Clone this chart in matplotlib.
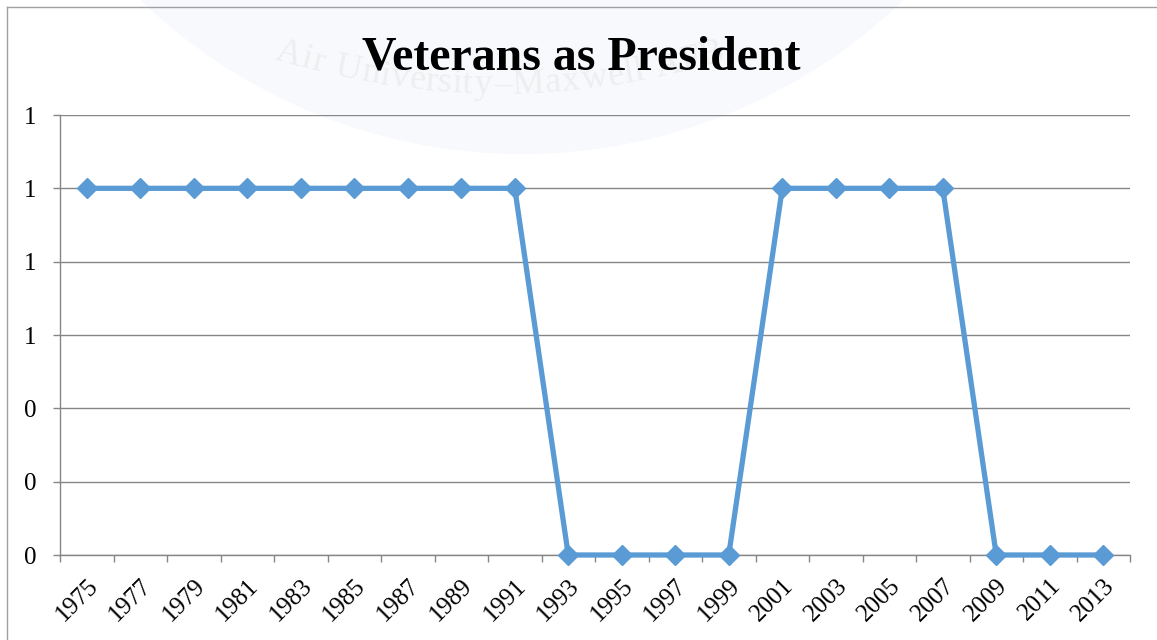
import numpy as np
import matplotlib
matplotlib.use('Agg')
import matplotlib.pyplot as plt
from matplotlib.patches import Circle
from matplotlib.lines import Line2D
from matplotlib.textpath import TextPath
from matplotlib.font_manager import FontProperties
from matplotlib.transforms import Affine2D, ScaledTranslation

years = ['1975', '1977', '1979', '1981', '1983', '1985', '1987', '1989', '1991', '1993',
         '1995', '1997', '1999', '2001', '2003', '2005', '2007', '2009', '2011', '2013']
veteran = [1, 1, 1, 1, 1, 1, 1, 1, 1, 0,
           0, 0, 0, 1, 1, 1, 1, 0, 0, 0]
y_ticks = [0, 0.2, 0.4, 0.6, 0.8, 1.0, 1.2]

W, H = 1157, 640
plt.rcParams['font.family'] = 'Liberation Serif'
fig = plt.figure(figsize=(W / 100, H / 100), dpi=100)
fig.patch.set_facecolor('white')

# faint seal watermark behind the chart (pixel coords, y measured from top)
seal = Circle((0, 0), 550, facecolor='#f7f9fd', edgecolor='none', zorder=0)
seal.set_transform(Affine2D().translate(522, H + 396))
fig.add_artist(seal)

wm = 'Air University\u2013Maxwell AFB'
fp = FontProperties(family='Liberation Serif', size=26)
widths = []
for ch in wm:
    if ch == ' ':
        widths.append(9)
    else:
        widths.append(TextPath((0, 0), ch, prop=fp).get_extents().width * 100 / 72)
gap = 2.0
cx, r = 500, 750
cy = 85 - r
total = sum(widths) + gap * len(wm)
ang = np.pi / 2 + (total / 2) / r
for ch, w in zip(wm, widths):
    a = ang - (w / 2) / r
    px = cx + r * np.cos(a)
    py = cy + r * np.sin(a)
    fig.text(px / W, 1 - py / H, ch, fontproperties=fp, color='#eeeeee',
             rotation=-np.degrees(a - np.pi / 2), ha='center', va='center',
             rotation_mode='anchor', zorder=1)
    ang -= (w + gap) / r

# chart border
fig.add_artist(Line2D([7 / W, 7 / W], [0, 1 - 7 / H], color='#a0a0a0', lw=1))
fig.add_artist(Line2D([7 / W, 1], [1 - 7 / H, 1 - 7 / H], color='#a0a0a0', lw=1))

ax = fig.add_axes([60 / W, 1 - 555 / H, 1070 / W, 440 / H])
ax.patch.set_alpha(0)
x = np.arange(len(years))
ax.plot(x, veteran, color='#5b9bd5', lw=3.8, marker='D', markersize=10,
        markeredgecolor='#5b9bd5', zorder=3, clip_on=False)

ax.set_xlim(-0.5, len(years) - 0.5)
ax.set_ylim(0, 1.2)
ax.set_yticks(y_ticks)
ax.set_yticklabels(['%.0f' % v for v in y_ticks], fontsize=18)
ax.yaxis.grid(True, color='#868686', lw=1)
ax.set_axisbelow(True)

ax.set_xticks(np.arange(-0.5, len(years)), minor=True)
ax.set_xticks(x)
ax.set_xticklabels(years, rotation=45, ha='right', va='top', rotation_mode='anchor',
                   fontsize=18)
shift = ScaledTranslation(-5 / 100, 0, fig.dpi_scale_trans)
for lbl in ax.get_xticklabels():
    lbl.set_transform(lbl.get_transform() + shift)
ax.tick_params(axis='x', which='major', length=0, pad=14)
ax.tick_params(axis='x', which='minor', length=5, color='#868686', width=1)
ax.tick_params(axis='y', length=5, color='#868686', width=1, pad=12)

for side in ['top', 'right']:
    ax.spines[side].set_visible(False)
for side in ['left', 'bottom']:
    ax.spines[side].set_color('#868686')
    ax.spines[side].set_linewidth(1)

fig.text(581 / W, 1 - 58 / H, 'Veterans as President', fontsize=34.5, fontweight='bold',
         ha='center', va='center', zorder=4)

fig.savefig('out.png', dpi=100)
